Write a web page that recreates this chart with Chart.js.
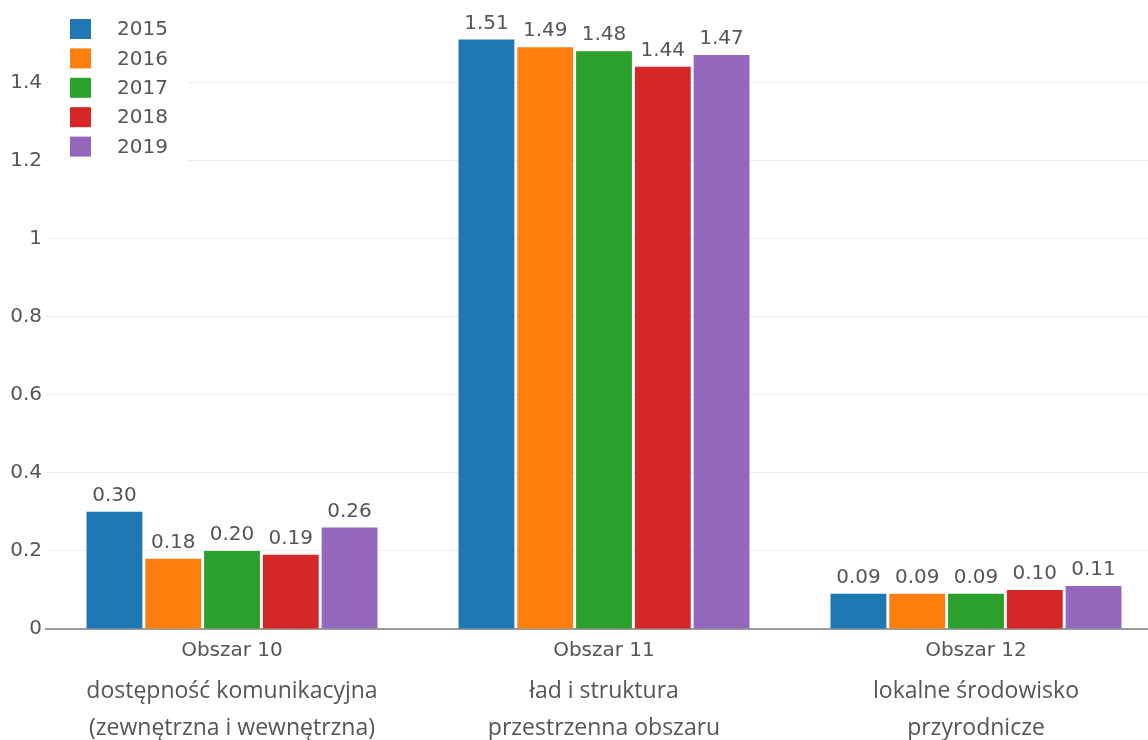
<!DOCTYPE html>
<html>
<head>
<meta charset="utf-8">
<script src="https://cdn.jsdelivr.net/npm/chart.js@4/dist/chart.umd.min.js"></script>
<style>
html,body{margin:0;padding:0;background:#fff;overflow:hidden;}
#wrap{width:1162px;height:740px;position:relative;}
</style>
</head>
<body>
<div id="wrap"><canvas id="c"></canvas></div>
<script>
const categories = ["Obszar 10", "Obszar 11", "Obszar 12"];
const descriptions = [
  ["dostępność komunikacyjna", "(zewnętrzna i wewnętrzna)"],
  ["ład i struktura", "przestrzenna obszaru"],
  ["lokalne środowisko", "przyrodnicze"]
];
const seriesLabels = ["2015", "2016", "2017", "2018", "2019"];
const colors = ["#1f77b4", "#ff7f0e", "#2ca02c", "#d62728", "#9467bd"];
const v2015 = [0.30, 1.51, 0.09];
const v2016 = [0.18, 1.49, 0.09];
const v2017 = [0.20, 1.48, 0.09];
const v2018 = [0.19, 1.44, 0.10];
const v2019 = [0.26, 1.47, 0.11];
const seriesValues = [v2015, v2016, v2017, v2018, v2019];

const TXT = "#555";
const tickFont = {family: "DejaVu Sans", size: 20};

const valueLabels = {
  id: "valueLabels",
  afterDatasetsDraw(chart) {
    const ctx = chart.ctx;
    ctx.save();
    ctx.font = "20px 'DejaVu Sans'";
    ctx.fillStyle = TXT;
    ctx.textAlign = "center";
    ctx.textBaseline = "bottom";
    chart.data.datasets.forEach((ds, di) => {
      const meta = chart.getDatasetMeta(di);
      meta.data.forEach((bar, i) => {
        ctx.fillText(ds.data[i].toFixed(2), bar.x, bar.y - 6);
      });
    });
    ctx.restore();
  }
};

const legendBox = {
  id: "legendBox",
  beforeDatasetsDraw(chart) {
    const ctx = chart.ctx;
    ctx.save();
    ctx.fillStyle = "#fff";
    ctx.fillRect(chart.chartArea.left + 2, 0, 140, 168);
    ctx.font = "20px 'DejaVu Sans'";
    ctx.textBaseline = "middle";
    ctx.textAlign = "left";
    chart.data.datasets.forEach((ds, i) => {
      const cy = 29 + i * 29.4;
      ctx.fillStyle = ds.backgroundColor;
      ctx.fillRect(70, cy - 10, 21, 20);
      ctx.fillStyle = TXT;
      ctx.fillText(ds.label, 117, cy + 1);
    });
    ctx.restore();
  }
};

const descPlugin = {
  id: "descPlugin",
  afterDraw(chart) {
    const ctx = chart.ctx;
    const xs = chart.scales.x;
    const base = chart.chartArea.bottom;
    ctx.save();
    ctx.font = "23px 'Open Sans'";
    ctx.fillStyle = "#555";
    ctx.textAlign = "center";
    ctx.textBaseline = "middle";
    descriptions.forEach((lines, i) => {
      const x = xs.getPixelForValue(i);
      lines.forEach((t, j) => ctx.fillText(t, x, base + 62 + j * 37));
    });
    ctx.restore();
  }
};

new Chart(document.getElementById("c"), {
  type: "bar",
  data: {
    labels: categories,
    datasets: seriesLabels.map((l, i) => ({
      label: l,
      data: seriesValues[i],
      backgroundColor: colors[i],
      borderWidth: 0,
      barPercentage: 0.95,
      categoryPercentage: 0.79
    }))
  },
  options: {
    responsive: true,
    maintainAspectRatio: false,
    animation: false,
    layout: {padding: {top: 0, left: 0, right: 0, bottom: 0}},
    plugins: {legend: {display: false}, tooltip: {enabled: false}},
    scales: {
      x: {
        grid: {display: false},
        border: {display: true, color: "#9a9a9a", width: 2},
        ticks: {color: TXT, font: tickFont, padding: 2},
        afterFit(scale) { scale.height = 111; }
      },
      y: {
        min: 0, max: 1.57,
        ticks: {
          stepSize: 0.2,
          color: TXT, font: tickFont, padding: 4,
          callback(v) { return v > 1.5 ? "" : Math.round(v * 10) / 10 + ""; }
        },
        grid: {
          color(c) { return (c.tick && (c.tick.value === 0 || c.tick.value > 1.5)) ? "rgba(0,0,0,0)" : "#ececec"; },
          drawTicks: false, lineWidth: 1
        },
        border: {display: false},
        afterFit(scale) { scale.width = 46; }
      }
    }
  },
  plugins: [legendBox, valueLabels, descPlugin]
});
</script>
</body>
</html>
